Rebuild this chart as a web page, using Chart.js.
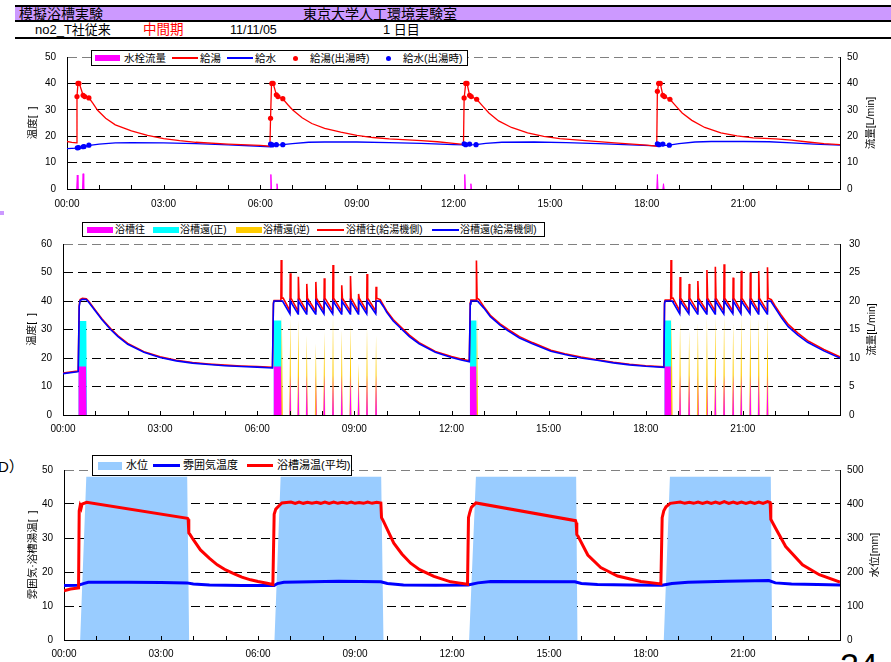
<!DOCTYPE html>
<html><head><meta charset="utf-8">
<script src="https://cdn.jsdelivr.net/npm/chart.js@4.4.1/dist/chart.umd.min.js"></script>
<style>
html,body{margin:0;padding:0;background:#fff;}
body{width:891px;height:662px;overflow:hidden;position:relative;font-family:"Liberation Sans","Noto Sans CJK JP",sans-serif;}
canvas{position:absolute;left:0;}
.abs{position:absolute;}
.t{position:absolute;white-space:nowrap;line-height:1.2;transform:translateY(-50%);color:#000;font-family:"Liberation Sans","Noto Sans CJK JP",sans-serif;}
.lg{position:absolute;background:#fff;border:1px solid #000;box-sizing:border-box;z-index:5;}
.sw{position:absolute;z-index:6;}
.dot{position:absolute;z-index:6;width:5px;height:5px;border-radius:50%;}
.lt{z-index:6;}
</style></head>
<body>
<!-- header -->
<div class="abs" style="left:15px;top:5px;width:876px;height:2px;background:#000"></div>
<div class="abs" style="left:15px;top:7px;width:876px;height:13px;background:#cc99ff"></div>
<div class="abs" style="left:15px;top:20px;width:876px;height:2px;background:#000"></div>
<div class="t" style="left:19px;top:14px;font-size:14px">模擬浴槽実験</div>
<div class="t" style="left:303px;top:14px;font-size:14px">東京大学人工環境実験室</div>
<div class="t" style="left:35px;top:30px;font-size:13px">no2_T社従来</div>
<div class="t" style="left:143px;top:30px;font-size:13.5px;color:#ff0000">中間期</div>
<div class="t" style="left:230px;top:30px;font-size:12.5px">11/11/05</div>
<div class="t" style="left:383px;top:30px;font-size:13px">1 日目</div>
<div class="abs" style="left:15px;top:37px;width:876px;height:2px;background:#000"></div>
<div class="abs" style="left:0px;top:211px;width:4px;height:4px;background:#cc99ff"></div>
<div class="t" style="left:-2px;top:467px;font-size:15px">D）</div>
<div class="abs" style="left:840px;top:648px;font-size:34px;line-height:1;white-space:nowrap">24</div>

<canvas id="c1" width="891" height="175" style="top:40px"></canvas>
<canvas id="c2" width="891" height="225" style="top:215px"></canvas>
<canvas id="c3" width="891" height="212" style="top:450px"></canvas>

<!-- legend 1 -->
<div class="lg" style="left:91px;top:50px;width:377px;height:16px"></div>
<div class="sw" style="left:95px;top:55px;width:25px;height:6px;background:#ff00ff"></div>
<div class="t lt" id="l1a" style="left:124px;top:58px;font-size:10.5px"></div>
<div class="sw" style="left:172px;top:57px;width:26px;height:1.5px;background:#ff0000"></div>
<div class="t lt" id="l1b" style="left:200px;top:58px;font-size:10.5px"></div>
<div class="sw" style="left:227px;top:57px;width:26px;height:1.5px;background:#0000ff"></div>
<div class="t lt" id="l1c" style="left:255px;top:58px;font-size:10.5px"></div>
<div class="dot" style="left:292.5px;top:55.5px;background:#ff0000"></div>
<div class="t lt" id="l1d" style="left:310px;top:58px;font-size:10.5px"></div>
<div class="dot" style="left:385.5px;top:55.5px;background:#0000ff"></div>
<div class="t lt" id="l1e" style="left:403px;top:58px;font-size:10.5px"></div>

<!-- legend 2 -->
<div class="lg" style="left:82px;top:222px;width:463px;height:15px"></div>
<div class="sw" style="left:87px;top:227px;width:26px;height:5.5px;background:#ff00ff"></div>
<div class="t lt" id="l2a" style="left:115px;top:229.5px;font-size:10px"></div>
<div class="sw" style="left:153px;top:227px;width:25.5px;height:5.5px;background:#00ffff"></div>
<div class="t lt" id="l2b" style="left:180px;top:229.5px;font-size:10px"></div>
<div class="sw" style="left:236px;top:227px;width:26px;height:5.5px;background:#ffcc00"></div>
<div class="t lt" id="l2c" style="left:263px;top:229.5px;font-size:10px"></div>
<div class="sw" style="left:317px;top:229px;width:26.5px;height:1.5px;background:#ff0000"></div>
<div class="t lt" id="l2d" style="left:346px;top:229.5px;font-size:10px"></div>
<div class="sw" style="left:432px;top:229px;width:27px;height:1.5px;background:#0000ff"></div>
<div class="t lt" id="l2e" style="left:460px;top:229.5px;font-size:10px"></div>

<!-- legend 3 -->
<div class="lg" style="left:92px;top:455px;width:260px;height:21px"></div>
<div class="sw" style="left:98px;top:461.5px;width:24px;height:8.5px;background:#99ccff"></div>
<div class="t lt" id="l3a" style="left:126px;top:465.5px;font-size:11px"></div>
<div class="sw" style="left:153px;top:464px;width:27px;height:3px;background:#0000ff"></div>
<div class="t lt" id="l3b" style="left:183px;top:465.5px;font-size:11px"></div>
<div class="sw" style="left:247px;top:464px;width:26px;height:3px;background:#ff0000"></div>
<div class="t lt" id="l3c" style="left:277px;top:465.5px;font-size:11px"></div>

<script>
// ---------- labels ----------
const xTickLabels = ['00:00','03:00','06:00','09:00','12:00','15:00','18:00','21:00'];
const legend1 = ['水栓流量','給湯','給水','給湯(出湯時)','給水(出湯時)'];
const legend2 = ['浴槽往','浴槽還(正)','浴槽還(逆)','浴槽往(給湯機側)','浴槽還(給湯機側)'];
const legend3 = ['水位','雰囲気温度','浴槽湯温(平均)'];
const titles1 = ['温度[  ]','流量[L/min]'];
const titles2 = ['温度[  ]','流量[L/min]'];
const titles3 = ['雰囲気·浴槽湯温[  ]','水位[mm]'];

// ---------- chart 1 data: [hour, value] ----------
const faucetFlow = [[0,0],[0.30,0],[0.32,5.3],[0.34,0],[0.48,0],[0.50,5.8],[0.52,0],[6.31,0],[6.33,5.5],[6.35,0],[6.50,0],[6.52,2.0],[6.54,0],[12.33,0],[12.35,5.5],[12.37,0],[12.52,0],[12.54,2.0],[12.56,0],[18.31,0],[18.33,5.5],[18.35,0],[18.50,0],[18.52,2.0],[18.54,0],[24,0]];
const hotSupply = [[0,18.0],[0.15,17.7],[0.30,17.5],[0.31,35],[0.34,40],[0.38,40],[0.50,35.5],[0.55,35],[0.68,34.5],[0.80,32.5],[0.95,29.8],[1.2,26.8],[1.5,24.3],[2.0,22.0],[2.5,20.3],[3.0,19.1],[3.5,18.3],[4.0,17.7],[5.0,17.0],[6.0,16.5],[6.30,16.2],
 [6.32,26.8],[6.35,40],[6.40,40],[6.50,35.7],[6.55,35],[6.70,34.2],[6.85,32],[7.0,30],[7.3,27],[7.6,24.8],[8.0,23],[8.5,21.5],[9.0,20.3],[9.5,19.5],[10.0,19.0],[11.0,18.3],[11.5,17.9],[12.0,17.3],[12.31,16.9],
 [12.33,34.5],[12.38,40],[12.42,40],[12.50,35.5],[12.55,35],[12.72,34],[12.9,31.5],[13.1,28.8],[13.4,25.8],[13.8,23.3],[14.3,21.3],[14.8,19.9],[15.3,19.1],[16.0,18.4],[17.0,17.5],[18.0,16.6],[18.31,16.2],
 [18.33,37],[18.37,40],[18.42,40],[18.50,35.5],[18.55,35],[18.72,34],[18.9,31.5],[19.1,28.8],[19.4,26],[19.8,23.3],[20.3,21.3],[20.8,20.1],[21.3,19.4],[22.0,19.0],[22.5,18.5],[23.0,17.8],[23.5,17.2],[24,16.8]];
const coldSupply = [[0,15.3],[0.30,15.5],[0.50,16.0],[0.70,16.5],[1.0,17.0],[1.5,17.5],[2.0,17.6],[3.0,17.5],[4.0,17.2],[5.0,16.7],[6.0,16.2],[6.32,16.0],[6.40,16.5],[6.70,16.8],[7.0,17.2],[7.5,17.7],[8.0,17.8],[9.0,17.8],[10.0,17.6],[11.0,17.3],[12.0,16.8],[12.35,16.7],[12.70,16.8],[13.0,17.3],[13.5,17.7],[14.5,17.8],[15.5,17.6],[16.5,17.2],[17.5,16.7],[18.30,16.3],[18.70,16.6],[19.0,17.2],[19.5,17.8],[20.0,18.0],[21.0,18.0],[21.8,17.9],[22.5,17.5],[23.2,17.0],[24,16.6]];
const hotDots = [[0.31,35],[0.34,40],[0.37,40],[0.50,35.5],[0.55,35],[0.68,34.5],[6.32,26.8],[6.36,40],[6.40,40],[6.50,35.7],[6.55,35],[6.70,34.2],[12.33,34.5],[12.38,40],[12.42,40],[12.50,35.5],[12.55,35],[12.72,34],[18.33,37],[18.37,40],[18.42,40],[18.50,35.5],[18.55,35],[18.72,34]];
const coldDots = [[0.32,15.6],[0.36,15.7],[0.50,16.0],[0.53,16.1],[0.68,16.6],[6.32,17.0],[6.37,16.7],[6.50,16.8],[6.70,16.8],[12.33,17.1],[12.38,16.8],[12.50,17.0],[12.70,16.8],[18.33,17.1],[18.38,16.8],[18.50,17.0],[18.70,16.6]];

// ---------- chart 2 data ----------
const bathReturnTemp = [[0,14.5],[0.45,15.2],[0.47,15.3],[0.50,38],[0.53,40.2],[0.60,40.6],[0.72,40.5],[0.80,39.5],[1.0,36.5],[1.2,33.5],[1.47,30],[1.7,27.5],[2.0,24.8],[2.5,22],[3.0,20.2],[3.5,19.0],[4.0,18.2],[4.5,17.7],[5.0,17.3],[5.5,17.0],[6.0,16.8],[6.47,16.5],
 [6.50,39],[6.52,40],[6.78,40],[7.01,35.5],[7.02,40],[7.26,35.5],[7.27,40],[7.52,35.5],[7.53,40],[7.80,35.5],[7.81,40],[8.06,35.5],[8.07,40],[8.33,35.5],[8.34,40],[8.60,35.5],[8.61,40],[8.87,35.5],[8.88,40],[9.12,35.5],[9.13,40],[9.38,35.5],[9.39,40],[9.66,35.5],[9.67,40],[9.78,40],[9.9,38],[10.0,36],[10.2,33],[10.47,30],[10.7,27.5],[11.0,25],[11.5,22],[12.0,20.2],[12.3,19.3],[12.55,18.7],
 [12.58,39],[12.60,40],[12.80,40],[13.0,37.5],[13.2,34.5],[13.5,31.5],[13.75,29.5],[14.1,27],[14.5,25],[15.07,22.4],[15.5,21.2],[16.0,20],[16.5,19.2],[17.0,18.3],[17.5,17.6],[18.0,17.1],[18.56,16.7],
 [18.58,39],[18.60,40],[18.82,40],[19.05,35.5],[19.06,40],[19.33,35.5],[19.34,40],[19.60,35.5],[19.61,40],[19.88,35.5],[19.89,40],[20.14,35.5],[20.15,40],[20.41,35.5],[20.42,40],[20.69,35.5],[20.70,40],[20.94,35.5],[20.95,40],[21.22,35.5],[21.23,40],[21.48,35.5],[21.49,40],[21.75,35.5],[21.76,40],[21.86,40],[22.0,37.5],[22.2,34],[22.4,31],[22.7,28],[23.0,25.5],[23.5,22.5],[24,20]];
const bathSupplyTemp = [[0,14.7],[0.45,15.4],[0.47,15.5],[0.50,38.5],[0.53,40.5],[0.60,40.9],[0.72,40.8],[0.80,39.8],[1.0,36.8],[1.2,33.8],[1.47,30.3],[1.7,27.8],[2.0,25.1],[2.5,22.2],[3.0,20.4],[3.5,19.2],[4.0,18.4],[4.5,17.9],[5.0,17.5],[5.5,17.2],[6.0,17.0],[6.47,16.7],
 [6.50,39.5],[6.52,40.2],[6.73,40.2],[6.74,54.4],[6.76,41],[6.80,41],[7.01,36.5],[7.02,49.7],[7.04,41],[7.26,36.5],[7.27,48.5],[7.29,41],[7.52,36.5],[7.53,46],[7.55,41],[7.80,36.5],[7.81,46.7],[7.83,41],[8.06,36.5],[8.07,48],[8.09,41],[8.33,36.5],[8.34,52.6],[8.36,41],[8.60,36.5],[8.61,45.5],[8.63,41],[8.87,36.5],[8.88,48.8],[8.90,41],[9.12,36.5],[9.13,42.5],[9.15,41],[9.38,36.5],[9.39,49.5],[9.41,41],[9.66,36.5],[9.67,45],[9.69,41],[9.80,40.5],[9.9,38.5],[10.0,36.5],[10.2,33.5],[10.47,30.5],[10.7,28],[11.0,25.4],[11.5,22.3],[12.0,20.5],[12.3,19.6],[12.55,19.0],
 [12.58,39.5],[12.60,40.3],[12.76,40.3],[12.77,54.2],[12.79,41],[12.85,40.5],[13.0,38],[13.2,35],[13.5,32],[13.75,30],[14.1,27.5],[14.5,25.4],[15.07,22.7],[15.5,21.5],[16.0,20.3],[16.5,19.4],[17.0,18.5],[17.5,17.8],[18.0,17.3],[18.56,16.9],
 [18.58,39.5],[18.60,40.3],[18.77,40.3],[18.78,54.4],[18.80,41],[18.84,41],[19.05,36.5],[19.06,48.4],[19.08,41],[19.33,36.5],[19.34,46],[19.36,41],[19.60,36.5],[19.61,47],[19.63,41],[19.88,36.5],[19.89,50.9],[19.91,41],[20.14,36.5],[20.15,52],[20.17,41],[20.41,36.5],[20.42,52.9],[20.44,41],[20.69,36.5],[20.70,48.2],[20.72,41],[20.94,36.5],[20.95,50.6],[20.97,41],[21.22,36.5],[21.23,50],[21.25,41],[21.48,36.5],[21.49,50.5],[21.51,41],[21.75,36.5],[21.76,51.8],[21.78,41],[21.88,40.5],[22.0,38.2],[22.2,34.8],[22.4,31.8],[22.7,28.7],[23.0,26.1],[23.5,23],[24,20.4]];
const bathSupplyFlow = [[0,0],[0.47,0],[0.48,8.5],[0.71,8.5],[0.73,0],[6.50,0],[6.51,8.5],[6.73,8.5],[6.75,0],
 [6.995,0],[7.02,7],[7.045,0],[7.245,0],[7.27,7],[7.295,0],[7.505,0],[7.53,7],[7.555,0],[7.785,0],[7.81,7],[7.835,0],[8.045,0],[8.07,7],[8.095,0],[8.315,0],[8.34,7],[8.365,0],[8.585,0],[8.61,7],[8.635,0],[8.855,0],[8.88,7],[8.905,0],[9.105,0],[9.13,6],[9.155,0],[9.365,0],[9.39,7],[9.415,0],[9.645,0],[9.67,7],[9.695,0],
 [12.56,0],[12.57,8.5],[12.76,8.5],[12.78,0],[18.57,0],[18.58,8.5],[18.77,8.5],[18.79,0],
 [19.035,0],[19.06,7],[19.085,0],[19.315,0],[19.34,7],[19.365,0],[19.585,0],[19.61,7],[19.635,0],[19.865,0],[19.89,7],[19.915,0],[20.125,0],[20.15,7],[20.175,0],[20.395,0],[20.42,7],[20.445,0],[20.675,0],[20.70,7],[20.725,0],[20.925,0],[20.95,7],[20.975,0],[21.205,0],[21.23,7],[21.255,0],[21.465,0],[21.49,7],[21.515,0],[21.735,0],[21.76,7],[21.785,0],[24,0]];
const bathReturnFwdFlow = [[0,0],[0.47,0],[0.48,16.5],[0.72,16.5],[0.74,0],[6.50,0],[6.51,16.6],[6.74,16.6],[6.76,0],[12.56,0],[12.57,16.6],[12.77,16.6],[12.79,0],[18.57,0],[18.58,16.6],[18.78,16.6],[18.80,0],[24,0]];
const bathReturnRevFlow = [[0,0],[6.73,0],[6.76,17.5],[6.79,0],[6.99,0],[7.02,17],[7.05,0],[7.24,0],[7.27,16.7],[7.30,0],[7.50,0],[7.53,14],[7.56,0],[7.78,0],[7.81,12.6],[7.84,0],[8.04,0],[8.07,14.6],[8.10,0],[8.31,0],[8.34,17.5],[8.37,0],[8.58,0],[8.61,15],[8.64,0],[8.85,0],[8.88,16],[8.91,0],[9.10,0],[9.13,9.1],[9.16,0],[9.36,0],[9.39,15.5],[9.42,0],[9.64,0],[9.67,14],[9.70,0],
 [12.76,0],[12.79,17.5],[12.82,0],
 [18.77,0],[18.80,17.5],[18.83,0],[19.03,0],[19.06,16.3],[19.09,0],[19.31,0],[19.34,14.8],[19.37,0],[19.58,0],[19.61,16.3],[19.64,0],[19.86,0],[19.89,17.3],[19.92,0],[20.12,0],[20.15,17.5],[20.18,0],[20.39,0],[20.42,17.5],[20.45,0],[20.67,0],[20.70,16.3],[20.73,0],[20.92,0],[20.95,17.5],[20.98,0],[21.20,0],[21.23,17.5],[21.26,0],[21.46,0],[21.49,17],[21.52,0],[21.73,0],[21.76,17.5],[21.79,0],[24,0]];

// ---------- chart 3 data ----------
const waterLevel = [[0,0],[0.50,0],[0.69,480],[3.81,480],[3.87,0],[6.51,0],[6.70,480],[9.81,480],[9.88,0],[12.53,0],[12.74,480],[15.84,480],[15.88,0],[18.55,0],[18.74,480],[21.86,480],[21.90,0],[24,0]];
const bathTemp = [[0,14.5],[0.2,15.0],[0.45,15.3],[0.47,38],[0.50,39.5],[0.53,38.8],[0.56,40],[0.70,40.5],[3.82,35.8],[3.84,35.5],[3.86,31.5],[3.90,31],[4.0,29.5],[4.22,26.5],[4.5,24],[4.74,22.1],[5.0,20.6],[5.25,19.5],[5.5,18.5],[5.77,17.7],[6.0,17.2],[6.28,16.7],[6.46,16.3],
 [6.50,37],[6.55,38.5],[6.65,39.5],[6.74,40.3],[7.02,40.6],[7.15,40.2],[7.27,40.6],[7.4,40.2],[7.53,40.5],[7.67,40.2],[7.81,40.5],[7.94,40.2],[8.07,40.6],[8.2,40.2],[8.34,40.6],[8.47,40.2],[8.61,40.5],[8.75,40.2],[8.88,40.6],[9.0,40.2],[9.13,40.4],[9.26,40.2],[9.39,40.6],[9.53,40.2],[9.67,40.5],[9.80,40.3],[9.82,36],[9.86,35.3],[9.90,34.5],[10.2,28.5],[10.45,25.3],[10.72,22.6],[11.0,20.7],[11.44,18.7],[11.96,17.1],[12.2,16.8],[12.48,16.4],
 [12.51,36],[12.55,37.5],[12.60,39],[12.74,40.3],[15.82,35.1],[15.84,34.5],[15.86,31],[15.90,30.5],[16.2,25],[16.6,21.3],[17.12,18.8],[17.84,17.2],[18.46,16.5],
 [18.50,36],[18.55,38],[18.62,39.2],[18.75,40.2],[19.06,40.6],[19.2,40.2],[19.34,40.5],[19.47,40.2],[19.61,40.6],[19.75,40.2],[19.89,40.6],[20.02,40.2],[20.15,40.6],[20.28,40.2],[20.42,40.7],[20.56,40.2],[20.70,40.6],[20.82,40.2],[20.95,40.6],[21.09,40.2],[21.23,40.6],[21.36,40.2],[21.49,40.6],[21.62,40.2],[21.76,40.7],[21.84,40.4],[21.86,35.5],[21.90,34.8],[22.0,33],[22.32,27.5],[22.84,22.1],[23.36,19.2],[24,17]];
const ambientTemp = [[0,16.0],[0.45,16.1],[0.6,16.6],[0.75,17.0],[2.0,17.0],[3.0,16.9],[3.8,16.8],[4.0,16.5],[4.5,16.2],[5.5,16.0],[6.5,16.0],[6.6,16.6],[6.8,17.0],[8.5,17.3],[9.8,17.1],[10.0,16.6],[10.5,16.2],[11.5,16.1],[12.5,16.2],[12.8,16.8],[13.2,17.2],[15.8,17.1],[16.0,16.6],[16.5,16.3],[17.5,16.2],[18.5,16.1],[18.8,16.6],[19.3,17.0],[20.5,17.3],[21.8,17.5],[22.0,16.8],[22.5,16.5],[23.3,16.3],[24,16.2]];

// ---------- legend text ----------
['l1a','l1b','l1c','l1d','l1e'].forEach((id,i)=>document.getElementById(id).textContent=legend1[i]);
['l2a','l2b','l2c','l2d','l2e'].forEach((id,i)=>document.getElementById(id).textContent=legend2[i]);
['l3a','l3b','l3c'].forEach((id,i)=>document.getElementById(id).textContent=legend3[i]);

const FONT = '"Liberation Sans","Noto Sans CJK JP",sans-serif';
const pts = a => a.map(p => ({x:p[0], y:p[1]}));
const xTick = v => (v % 3 === 0 && v < 24) ? xTickLabels[v/3] : '';
const noBase = {borderColor: c => (c.p0.parsed.y === 0 && c.p1.parsed.y === 0) ? 'rgba(0,0,0,0)' : undefined};

const decor = {
  id:'decor',
  afterDraw(chart, args, o){
    const {ctx, chartArea:{left,right,top,bottom}} = chart;
    const xs = chart.scales.x;
    ctx.save();
    ctx.strokeStyle = '#000'; ctx.lineWidth = 1;
    xs.ticks.forEach(t => {
      const px = Math.round(xs.getPixelForValue(t.value)) + 0.5;
      ctx.beginPath(); ctx.moveTo(px, bottom); ctx.lineTo(px, bottom - 4); ctx.stroke();
    });
    ctx.fillStyle = '#000';
    ctx.font = '10.5px "Liberation Sans","Noto Sans CJK JP"';
    ctx.textAlign = 'center'; ctx.textBaseline = 'middle';
    const cy = (top + bottom) / 2;
    ctx.save(); ctx.translate(left - o.lOff, cy); ctx.rotate(-Math.PI/2); ctx.fillText(o.titles[0], 0, 0); ctx.restore();
    ctx.save(); ctx.translate(right + o.rOff, cy); ctx.rotate(-Math.PI/2); ctx.fillText(o.titles[1], 0, 0); ctx.restore();
    ctx.restore();
  }
};

function opts(o){
  const tickFont = {family:FONT, size:10};
  return {
    responsive:false, maintainAspectRatio:false, animation:false,
    layout:{padding:{top:o.padTop,left:0,right:0,bottom:0}},
    elements:{point:{radius:0}, line:{tension:0}},
    plugins:{legend:{display:false}, tooltip:{enabled:false},
      decor:{titles:o.titles, lOff:o.lOff, rOff:o.rOff}},
    scales:{
      x:{type:'linear', min:0, max:24,
        ticks:{stepSize:1, autoSkip:false, maxRotation:0, minRotation:0, padding:o.xPad, color:'#000', font:tickFont, callback:xTick},
        grid:{display:false, drawTicks:false},
        border:{display:true, color:'#000', width:1},
        afterFit:s=>{s.height=o.xH;}},
      y:{type:'linear', position:'left', min:0, max:o.yMax,
        ticks:{stepSize:o.yStep, padding:11, color:'#000', font:tickFont},
        grid:{drawTicks:false, lineWidth:1, color:c=> c.tick.value===o.yMax ? '#808080' : (c.tick.value===0 ? 'rgba(0,0,0,0)' : '#000')},
        border:{display:true, color:'#000', width:1, dash:[9,5]},
        afterFit:s=>{s.width=o.left;}},
      y1:{type:'linear', position:'right', min:0, max:o.y1Max,
        ticks:{stepSize:o.y1Step, padding:o.rPad, color:'#000', font:tickFont},
        grid:{display:false, drawTicks:false},
        border:{display:true, color:'#000', width:1},
        afterFit:s=>{s.width=891-o.right;}}
    }
  };
}

// chart 1
new Chart(document.getElementById('c1'), {
  type:'line',
  data:{datasets:[
    {data:pts(hotDots), showLine:false, pointRadius:2.6, pointBackgroundColor:'#ff0000', pointBorderWidth:0, yAxisID:'y'},
    {data:pts(coldDots), showLine:false, pointRadius:2.6, pointBackgroundColor:'#0000ff', pointBorderWidth:0, yAxisID:'y'},
    {data:pts(hotSupply), borderColor:'#ff0000', borderWidth:1.3, yAxisID:'y'},
    {data:pts(coldSupply), borderColor:'#0000ff', borderWidth:1.3, yAxisID:'y'},
    {data:pts(faucetFlow), borderColor:'#ff00ff', borderWidth:1, backgroundColor:'#ff00ff', fill:'origin', segment:noBase, yAxisID:'y1'}
  ]},
  options:opts({padTop:15, xH:26, left:67, right:840, yMax:50, yStep:10, y1Max:50, y1Step:10, xPad:9, rPad:7, titles:titles1, lOff:34, rOff:31}),
  plugins:[decor]
});

// chart 2
new Chart(document.getElementById('c2'), {
  type:'line',
  data:{datasets:[
    {data:pts(bathReturnTemp), borderColor:'#0000ff', borderWidth:1.6, yAxisID:'y'},
    {data:pts(bathSupplyTemp), borderColor:'#ff0000', borderWidth:1.6, yAxisID:'y'},
    {data:pts(bathSupplyFlow), borderColor:'rgba(0,0,0,0)', borderWidth:0, backgroundColor:'#ff00ff', fill:'origin', yAxisID:'y1'},
    {data:pts(bathReturnRevFlow), borderColor:'rgba(0,0,0,0)', borderWidth:0, backgroundColor:'#ffcc00', fill:'origin', yAxisID:'y1'},
    {data:pts(bathReturnFwdFlow), borderColor:'rgba(0,0,0,0)', borderWidth:0, backgroundColor:'#00ffff', fill:'origin', yAxisID:'y1'}
  ]},
  options:opts({padTop:29, xH:25, left:63, right:840, yMax:60, yStep:10, y1Max:30, y1Step:5, xPad:8, rPad:9, titles:titles2, lOff:31, rOff:32}),
  plugins:[decor]
});

// chart 3
new Chart(document.getElementById('c3'), {
  type:'line',
  data:{datasets:[
    {data:pts(bathTemp), borderColor:'#ff0000', borderWidth:3, yAxisID:'y'},
    {data:pts(ambientTemp), borderColor:'#0000ff', borderWidth:3, yAxisID:'y'},
    {data:pts(waterLevel), borderColor:'rgba(0,0,0,0)', borderWidth:0, backgroundColor:'#99ccff', fill:'origin', yAxisID:'y1'}
  ]},
  options:opts({padTop:20, xH:22, left:64, right:840, yMax:50, yStep:10, y1Max:500, y1Step:100, xPad:8, rPad:7, titles:titles3, lOff:31, rOff:35}),
  plugins:[decor]
});
</script>
</body></html>
